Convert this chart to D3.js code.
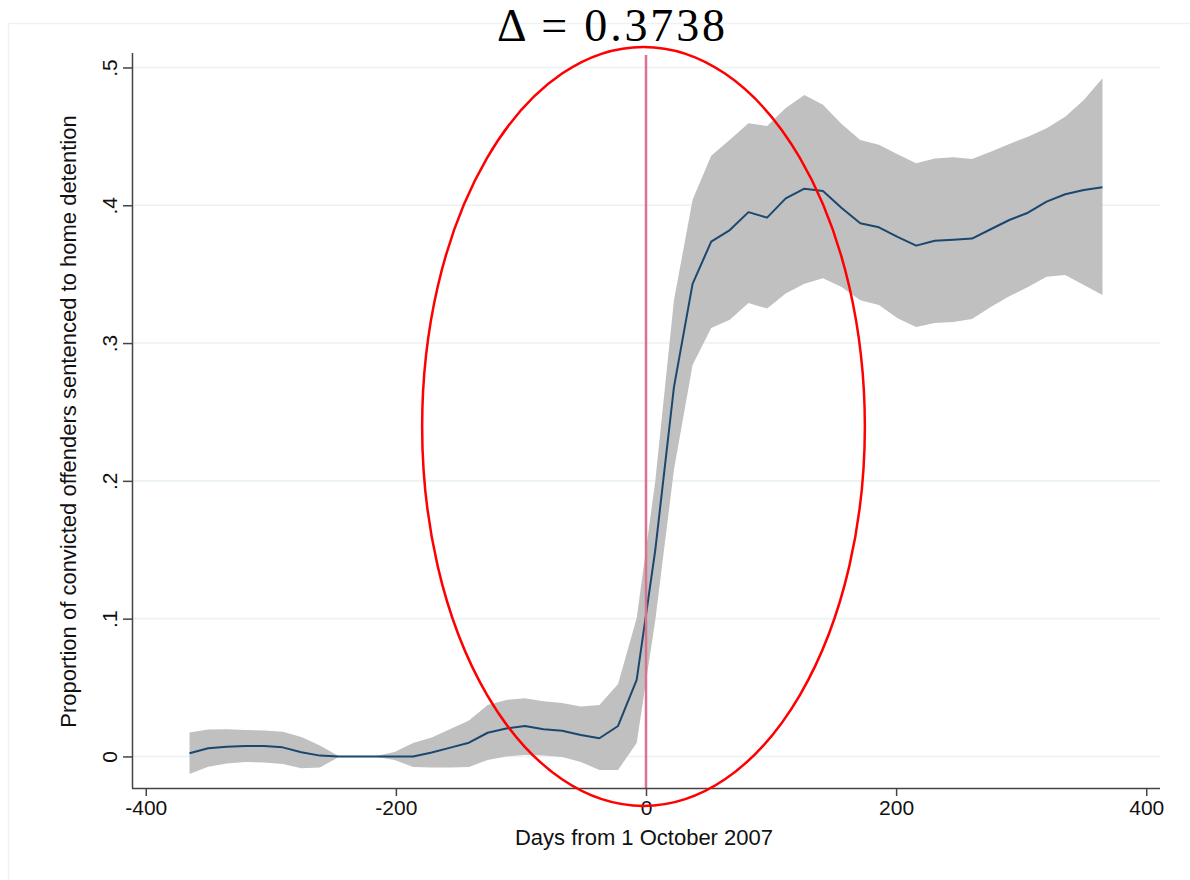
<!DOCTYPE html>
<html>
<head>
<meta charset="utf-8">
<script src="https://cdn.jsdelivr.net/npm/d3@7/dist/d3.min.js"></script>
<style>
  html, body { margin: 0; padding: 0; background: #ffffff; }
  svg { display: block; }
</style>
</head>
<body>
<svg id="chart" width="1190" height="880"></svg>
<script>
// ---- Data ----
// 50 evaluation points evenly spaced from -365 to 365 days
const nPoints = 50;
const dayStart = -365, dayEnd = 365;
const days = d3.range(nPoints).map(i => dayStart + (dayEnd - dayStart) * i / (nPoints - 1));

const estimate = [
  0.0023, 0.0060, 0.0071, 0.0076, 0.0076, 0.0066, 0.0030, 0.0006, 0.0000, 0.0000,
  0.0000, 0.0000, 0.0000, 0.0028, 0.0064, 0.0100, 0.0172, 0.0203, 0.0221, 0.0198,
  0.0187, 0.0156, 0.0132, 0.0221, 0.0555, 0.1500, 0.2680, 0.3430, 0.3736, 0.3820,
  0.3950, 0.3910, 0.4050, 0.4120, 0.4104, 0.3980, 0.3870, 0.3840, 0.3770, 0.3707,
  0.3743, 0.3750, 0.3758, 0.3826, 0.3893, 0.3946, 0.4026, 0.4080, 0.4111, 0.4130
];
const upperCI = [
  0.0173, 0.0196, 0.0197, 0.0192, 0.0189, 0.0180, 0.0142, 0.0080, 0.0004, 0.0002,
  0.0003, 0.0033, 0.0098, 0.0138, 0.0200, 0.0260, 0.0374, 0.0410, 0.0422, 0.0400,
  0.0388, 0.0363, 0.0374, 0.0526, 0.1005, 0.2000, 0.3310, 0.4040, 0.4360, 0.4475,
  0.4595, 0.4575, 0.4705, 0.4800, 0.4730, 0.4590, 0.4474, 0.4440, 0.4370, 0.4305,
  0.4340, 0.4348, 0.4336, 0.4389, 0.4445, 0.4498, 0.4559, 0.4643, 0.4764, 0.4922
];
const lowerCI = [
  -0.0127, -0.0074, -0.0051, -0.0040, -0.0044, -0.0054, -0.0086, -0.0081, -0.0004, -0.0002,
  -0.0003, -0.0025, -0.0076, -0.0080, -0.0080, -0.0076, -0.0025, 0.0000, 0.0011, 0.0007,
  -0.0004, -0.0040, -0.0098, -0.0098, 0.0098, 0.0990, 0.2080, 0.2840, 0.3110, 0.3170,
  0.3290, 0.3250, 0.3360, 0.3430, 0.3470, 0.3407, 0.3310, 0.3277, 0.3180, 0.3117,
  0.3146, 0.3153, 0.3175, 0.3262, 0.3340, 0.3407, 0.3482, 0.3494, 0.3422, 0.3349
];

const xTicks = [-400, -200, 0, 200, 400];
const yTicks = [0, 0.1, 0.2, 0.3, 0.4, 0.5];
const xDomain = [-411, 411];
const yDomain = [-0.0229, 0.5105];
const cutoffDay = 0;
const titleText = "\u0394 = 0.3738";
const xTitle = "Days from 1 October 2007";
const yTitle = "Proportion of convicted offenders sentenced to home detention";
// annotation ellipse in data units: centre (day, value), radii (days, value)
const ellipseCentre = [-2, 0.2395];
const ellipseRadii = [177, 0.2754];

// ---- Layout ----
const svg = d3.select("#chart");
const plot = { left: 132, right: 1160, top: 53, bottom: 788 };

const x = d3.scaleLinear().domain(xDomain).range([plot.left, plot.right]);
const y = d3.scaleLinear().domain(yDomain).range([plot.bottom, plot.top]);

const rows = days.map((d, i) => ({ day: d, est: estimate[i], lo: lowerCI[i], hi: upperCI[i] }));

// faint outer graph-region border
svg.append("rect")
  .attr("x", 8.5).attr("y", 23.5).attr("width", 1200).attr("height", 900)
  .attr("fill", "none").attr("stroke", "#eef2f4").attr("stroke-width", 1.5);

// gridlines
svg.append("g").selectAll("line").data(yTicks).join("line")
  .attr("x1", plot.left).attr("x2", plot.right)
  .attr("y1", d => y(d)).attr("y2", d => y(d))
  .attr("stroke", "#eaf2f3").attr("stroke-width", 1.6);

// CI band
svg.append("path").datum(rows)
  .attr("fill", "#c0c0c0")
  .attr("d", d3.area().x(d => x(d.day)).y0(d => y(d.lo)).y1(d => y(d.hi)));

// estimate line
svg.append("path").datum(rows)
  .attr("fill", "none").attr("stroke", "#1a476f").attr("stroke-width", 2)
  .attr("stroke-linejoin", "round")
  .attr("d", d3.line().x(d => x(d.day)).y(d => y(d.est)));

// cutoff line
svg.append("line")
  .attr("x1", x(cutoffDay)).attr("x2", x(cutoffDay))
  .attr("y1", y(yDomain[1]) + 2).attr("y2", y(yDomain[0]))
  .attr("stroke", "#d9728e").attr("stroke-width", 2.5);

// axes
const axisColor = "#444444";
const fontFamily = "'Liberation Sans', Arial, sans-serif";

const yAxis = svg.append("g").attr("transform", `translate(${plot.left},0)`)
  .call(d3.axisLeft(y).tickValues(yTicks).tickSize(9).tickPadding(0)
    .tickFormat(d => d === 0 ? "0" : d3.format(".1f")(d).replace(/^0/, "")));
yAxis.select(".domain").attr("stroke", axisColor).attr("stroke-width", 1.5)
  .attr("d", `M0.5,${plot.top}V${plot.bottom}`);
yAxis.selectAll(".tick line").attr("stroke", axisColor).attr("stroke-width", 1.5);
yAxis.selectAll(".tick text")
  .attr("x", null).attr("dy", null)
  .attr("transform", "translate(-15,0) rotate(-90)")
  .attr("text-anchor", "middle")
  .attr("fill", "#111")
  .style("font-family", fontFamily).style("font-size", "21px");

const xAxis = svg.append("g").attr("transform", `translate(0,${plot.bottom})`)
  .call(d3.axisBottom(x).tickValues(xTicks).tickSize(8).tickPadding(4)
    .tickFormat(d => String(d)));
xAxis.select(".domain").attr("stroke", axisColor).attr("stroke-width", 1.5)
  .attr("d", `M${plot.left},0.5H${plot.right}`);
xAxis.selectAll(".tick line").attr("stroke", axisColor).attr("stroke-width", 1.5);
xAxis.selectAll(".tick text")
  .attr("fill", "#111")
  .style("font-family", fontFamily).style("font-size", "21px");

// axis titles
svg.append("text")
  .attr("x", 644).attr("y", 845)
  .attr("text-anchor", "middle").attr("fill", "#111")
  .style("font-family", fontFamily).style("font-size", "22px")
  .text(xTitle);

svg.append("text")
  .attr("transform", `translate(76,${(115 + 728) / 2}) rotate(-90)`)
  .attr("text-anchor", "middle").attr("fill", "#111")
  .style("font-family", fontFamily).style("font-size", "22px")
  .text(yTitle);

// annotation ellipse
svg.append("ellipse")
  .attr("cx", x(ellipseCentre[0])).attr("cy", y(ellipseCentre[1]))
  .attr("rx", x(ellipseCentre[0] + ellipseRadii[0]) - x(ellipseCentre[0]))
  .attr("ry", y(ellipseCentre[1] - ellipseRadii[1]) - y(ellipseCentre[1]))
  .attr("fill", "none").attr("stroke", "#ff0000").attr("stroke-width", 2.5);

// title
svg.append("text")
  .attr("x", 611).attr("y", 41)
  .attr("text-anchor", "middle").attr("fill", "#000")
  .attr("textLength", 228).attr("lengthAdjust", "spacing")
  .style("font-family", "'Liberation Serif', 'DejaVu Serif', serif").style("font-size", "46px")
  .text(titleText);
</script>
</body>
</html>
